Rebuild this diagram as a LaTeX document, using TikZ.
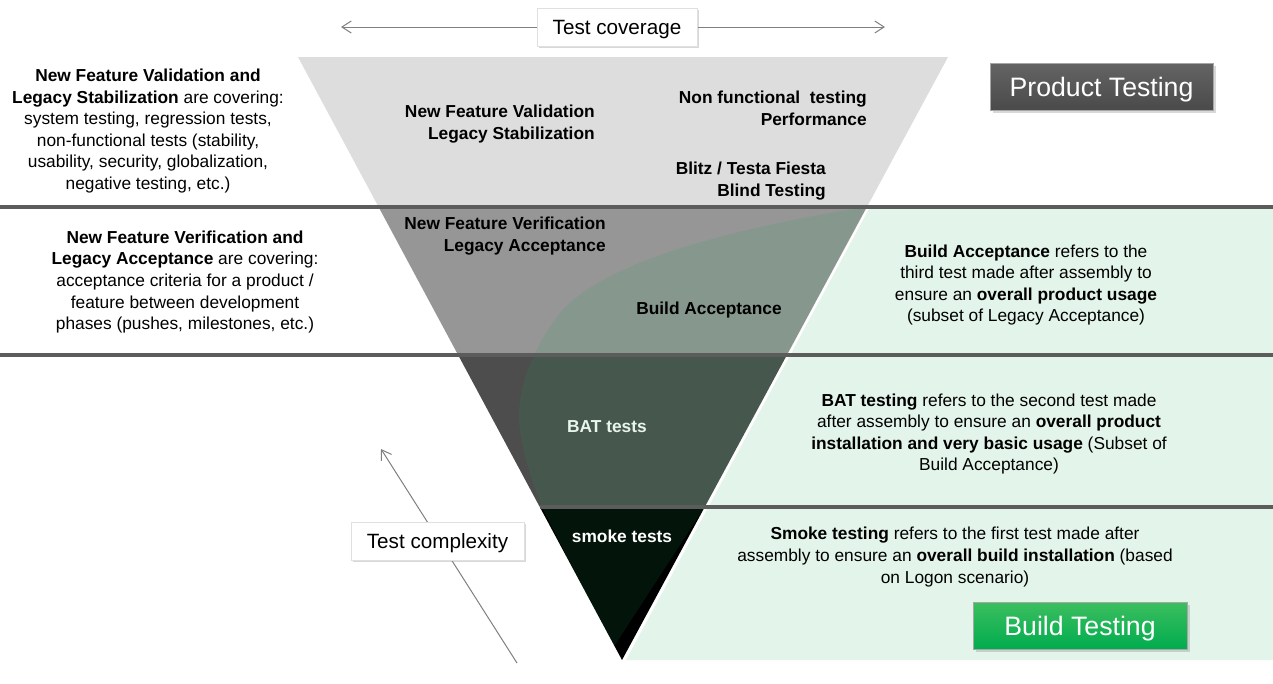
\documentclass[tikz,border=0pt]{standalone}
\usepackage{fontspec}
\setmainfont{Liberation Sans}
\usetikzlibrary{arrows.meta,shadows}
\definecolor{bandA}{RGB}{221,221,221}
\definecolor{bandB}{RGB}{150,150,150}
\definecolor{bandC}{RGB}{77,77,77}
\definecolor{bandD}{RGB}{0,0,0}
\definecolor{tint}{RGB}{29,166,85}
\definecolor{lightgreen}{RGB}{227,244,234}
\definecolor{sepline}{RGB}{92,92,92}
\definecolor{arrowgray}{RGB}{128,128,128}
\definecolor{ptop}{RGB}{100,100,100}
\definecolor{pbot}{RGB}{74,74,74}
\definecolor{gtop}{RGB}{60,190,95}
\definecolor{gbot}{RGB}{0,172,78}
\definecolor{battext}{RGB}{232,244,236}
\begin{document}
\begin{tikzpicture}[x=0.75pt,y=-0.75pt,
  body/.style={font=\fontsize{13}{16.2}\selectfont, align=center, inner sep=0pt},
  tri/.style={font=\bfseries\fontsize{13}{16.2}\selectfont, align=right, anchor=east, inner sep=0pt},
  trictr/.style={font=\bfseries\fontsize{13}{16.2}\selectfont, align=center, inner sep=0pt},
  whitebox/.style={fill=white, draw=black!12, inner sep=0pt, text depth=0pt, font=\fontsize{15.5}{18}\selectfont,
    drop shadow={shadow xshift=1.5pt, shadow yshift=-1.5pt, opacity=0.3}},
  labelbox/.style={inner sep=0pt, text depth=0pt, text=white, font=\fontsize{20}{24}\selectfont, draw=black!35,
    drop shadow={shadow xshift=2pt, shadow yshift=-2pt, opacity=0.3}},
  thinarrow/.style={draw=arrowgray, line width=0.75pt},
  sep/.style={draw=sepline, line width=2.6pt}
]
\useasboundingbox (0,0) rectangle (1273,683);
\fill[white] (0,0) rectangle (1273,683);

\coordinate (TL) at (298,57);
\coordinate (TR) at (948,57);
\coordinate (AP) at (622,660);

% light green area right of the funnel
\fill[lightgreen] (870,207) -- (1273,207) -- (1273,660) -- (626,660) -- cycle;

% funnel bands
\begin{scope}
  \clip (TL) -- (TR) -- (AP) -- cycle;
  \fill[bandA] (0,50) rectangle (1273,207);
  \fill[bandB] (0,207) rectangle (1273,355);
  \fill[bandC] (0,355) rectangle (1273,507);
  \fill[bandD] (0,507) rectangle (1273,683);
  \fill[tint, fill opacity=0.124]
    (866,207) .. controls (720,230) and (600,265) .. (560,313)
    .. controls (535,345) and (514,390) .. (520,430)
    .. controls (523,455) and (535,490) .. (542,507)
    -- (613,648) -- (706,505) -- (866,207) -- cycle;
\end{scope}

% separators
\draw[sep] (0,207) -- (1273,207);
\draw[sep] (0,355) -- (1273,355);
\draw[sep] (540,507) -- (1273,507);

% arrows
\coordinate (covL) at (341,27);
\coordinate (covR) at (885,27);
\draw[thinarrow, {Straight Barb[length=7pt,width=9pt]}-{Straight Barb[length=7pt,width=9pt]}] (covL) -- (covR);
\coordinate (cxS) at (517,663);
\coordinate (cxE) at (381,449);
\draw[thinarrow, -{Straight Barb[length=7pt,width=9pt]}] (cxS) -- (cxE);

% boxes
\node[whitebox, minimum width=120pt, minimum height=28.5pt] (cov) at (617,27) {Test coverage};
\node[whitebox, minimum width=129.75pt, minimum height=28.5pt] (cplx) at (437.5,541) {Test complexity};
\node[labelbox, top color=ptop, bottom color=pbot, minimum width=167.25pt, minimum height=35.25pt] (prod) at (1101.5,86.5) {Product Testing};
\node[labelbox, top color=gtop, bottom color=gbot, minimum width=160.5pt, minimum height=35.25pt] (build) at (1080,625.5) {Build Testing};

% left descriptions
\node[body] (left1) at (148,131) {\textbf{New Feature Validation and}\\
  \textbf{Legacy Stabilization} are covering:\\
  system testing, regression tests,\\
  non-functional tests (stability,\\
  usability, security, globalization,\\
  negative testing, etc.)};
\node[body] (left2) at (185,282) {\textbf{New Feature Verification and}\\
  \textbf{Legacy Acceptance} are covering:\\
  acceptance criteria for a product /\\
  feature between development\\
  phases (pushes, milestones, etc.)};

% funnel labels
\node[tri] (nfv) at (595,124) {New Feature Validation\\Legacy Stabilization};
\node[tri] (nft) at (867,108.5) {Non functional\ \ testing\\Performance};
\node[tri] (blitz) at (826,181) {Blitz / Testa Fiesta\\Blind Testing};
\node[tri] (nfver) at (606,236) {New Feature Verification\\Legacy Acceptance};
\node[trictr] (ba) at (709,310) {Build Acceptance};
\node[trictr, text=battext] (bat) at (607,426.5) {BAT tests};
\node[trictr, text=white] (smoke) at (622,536) {smoke tests};

% right descriptions
\node[body] (r1) at (1026,285) {\textbf{Build Acceptance} refers to the\\
  third test made after assembly to\\
  ensure an \textbf{overall product usage}\\
  (subset of Legacy Acceptance)};
\node[body] (r2) at (989,434) {\textbf{BAT testing} refers to the second test made\\
  after assembly to ensure an \textbf{overall product}\\
  \textbf{installation and very basic usage} (Subset of\\
  Build Acceptance)};
\node[body] (r3) at (955,557) {\textbf{Smoke testing} refers to the first test made after\\
  assembly to ensure an \textbf{overall build installation} (based\\
  on Logon scenario)};
\end{tikzpicture}
\end{document}
